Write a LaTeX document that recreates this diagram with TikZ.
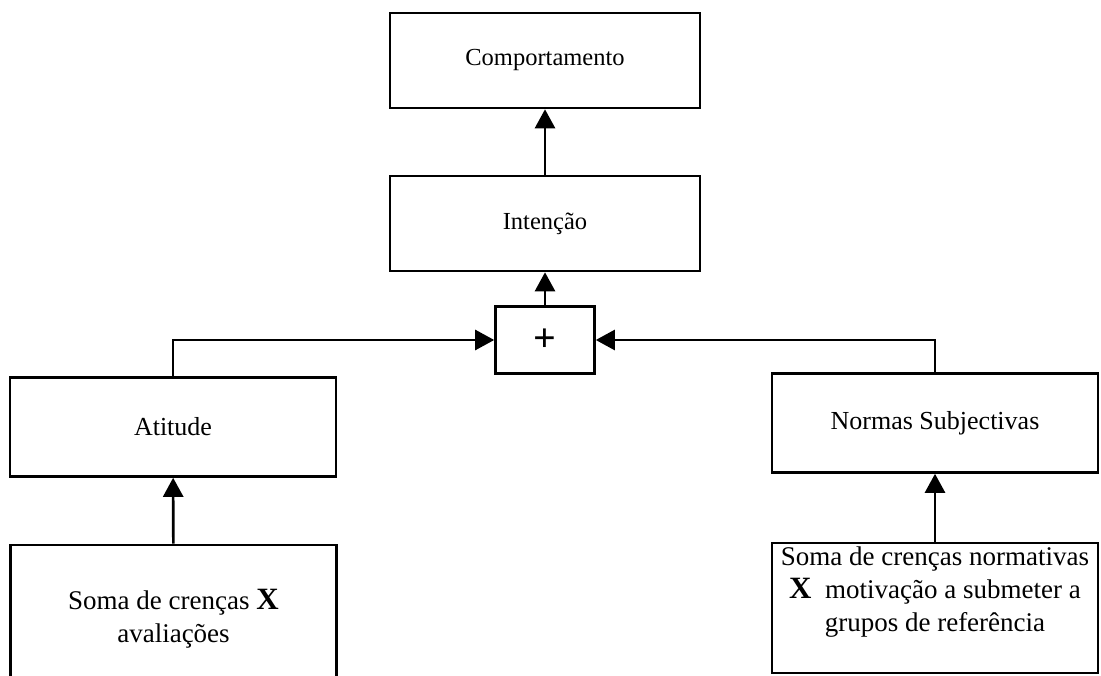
\documentclass[tikz,border=0pt]{standalone}
\usepackage{fontspec}
\setmainfont{Liberation Serif}
\usetikzlibrary{arrows.meta, positioning, calc}
\newcommand{\timesx}{{\fontsize{31}{31}\selectfont\bfseries X}}
\tikzset{
    block/.style={
        rectangle,
        draw=black,
        line width=2.6pt,
        text centered,
        align=center,
        inner sep=0pt,
        minimum width=310pt,
        minimum height=95pt,
        font=\fontsize{24.5}{33}\selectfont
    },
    sideblock/.style={
        block,
        minimum width=326pt,
        minimum height=99pt,
        font=\fontsize{26}{33}\selectfont
    },
    sumblock/.style={
        block,
        minimum width=99pt,
        minimum height=67pt,
        font=\fontsize{40}{40}\selectfont\bfseries
    },
    label/.style={
        align=center,
        inner sep=0pt,
        font=\fontsize{27}{33}\selectfont
    },
    connection/.style={
        draw=black,
        line width=2.6pt,
        -{Triangle[width=20pt,length=19pt]}
    }
}
\begin{document}
\begin{tikzpicture}[x=1pt, y=-1pt]
\useasboundingbox (0,0) rectangle (1101,676);
% Intention model
\node[block] (behav) at (545,60.5) {Comportamento};
\node[block] (intent) at (545,223.5) {Intenção};
\node[sumblock] (plus) at (545,340) {+};
\node[sideblock] (attitude) at (173,427) {Atitude};
\node[sideblock] (norms) at (935,423) {Normas Subjectivas};
\node[sideblock, minimum height=135pt] (beliefs) at (173.5,612.5) {};
\node[label, below=45pt of beliefs.north] {Soma de crenças \timesx\\avaliações};
\node[sideblock, minimum height=130pt] (normbeliefs) at (935,608) {};
\node[label, below=5pt of normbeliefs.north] {Soma de crenças normativas\\\timesx\ \ motivação a submeter a\\grupos de referência};

\draw[connection] (intent) -- (behav);
\draw[connection] (plus) -- (intent);
\draw[connection] (attitude.north) |- (plus.west);
\draw[connection] (norms.north) |- (plus.east);
\draw[connection] (beliefs) -- (attitude);
\draw[connection] (normbeliefs) -- (norms);
\end{tikzpicture}
\end{document}
